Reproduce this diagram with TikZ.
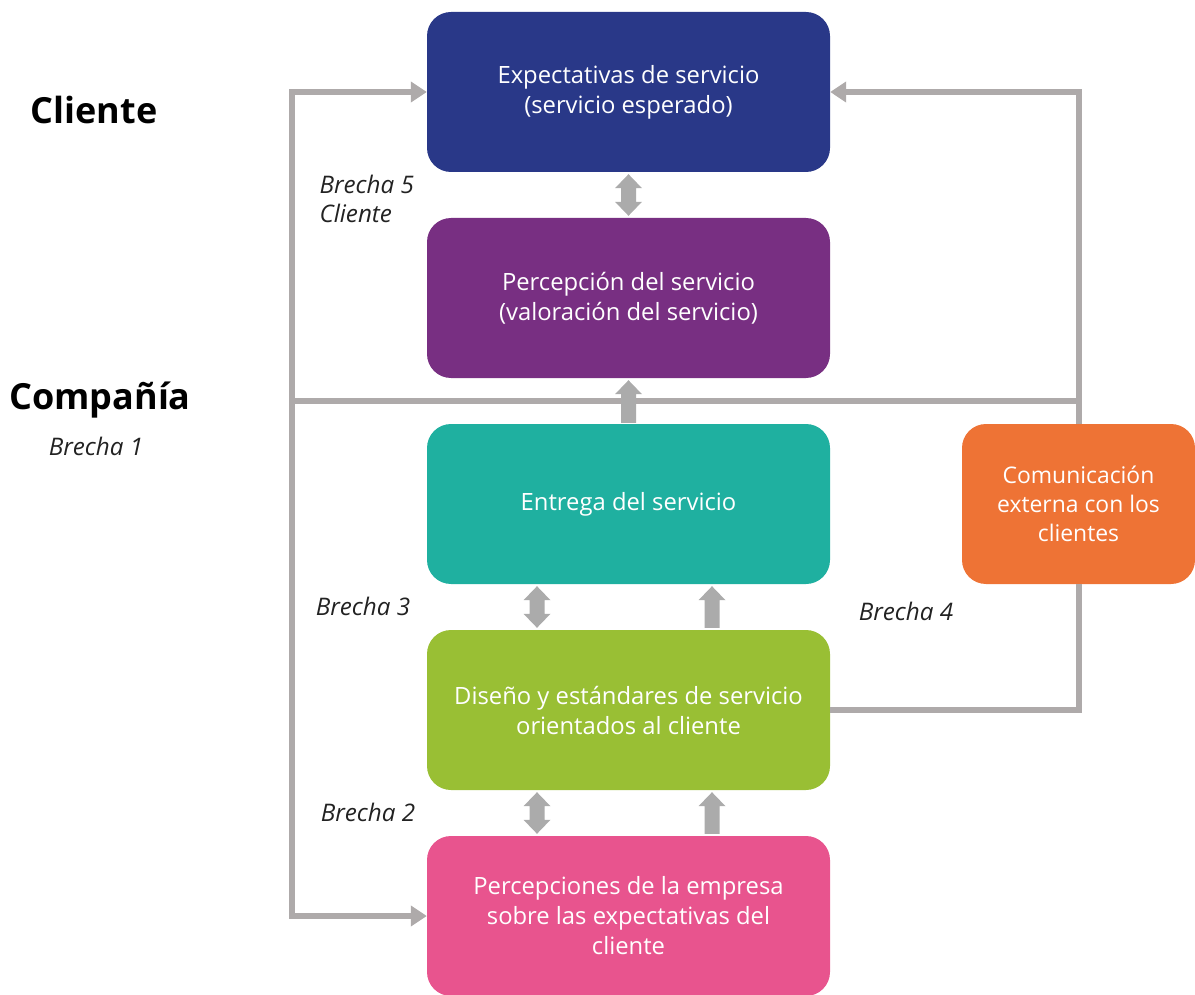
\documentclass[tikz,border=0pt]{standalone}
\usepackage{fontspec}
\setmainfont{Open Sans}
\usetikzlibrary{arrows.meta,calc}

\definecolor{cblue}{RGB}{41,56,136}
\definecolor{cpurple}{RGB}{120,47,130}
\definecolor{cteal}{RGB}{31,176,160}
\definecolor{cgreen}{RGB}{153,191,52}
\definecolor{cpink}{RGB}{232,84,142}
\definecolor{corange}{RGB}{238,115,53}
\definecolor{linegray}{RGB}{174,170,170}
\definecolor{arrowgray}{RGB}{171,171,171}
\definecolor{labeltext}{RGB}{34,34,34}

\tikzset{
  stage/.style={rectangle, rounded corners=24pt, minimum width=403pt,
    minimum height=160pt, inner sep=0pt, text=white, align=center,
    font=\fontsize{23.8}{30}\selectfont},
  sidebox/.style={stage, minimum width=233pt, font=\fontsize{22.9}{29}\selectfont},
  flow/.style={draw=linegray, line width=6pt, line join=miter},
  flowtip/.style={flow, -{Triangle[length=16pt,width=20pt]}},
  blockarrow/.style={fill=arrowgray},
  side/.style={font=\fontsize{36}{40}\selectfont\bfseries, text=black},
  gaplabel/.style={font=\fontsize{24.2}{29}\selectfont\itshape, text=labeltext, align=left}
}

% two-headed block arrow from an upper point #1 down to a lower point #2
\newcommand\dblblock[2]{%
  \fill[blockarrow] let \p1=#1, \p2=#2 in
    (\x1,\y1) -- (\x1+13.5pt,\y1-14pt) -- (\x1+7.5pt,\y1-14pt)
    -- (\x1+7.5pt,\y2+14pt) -- (\x1+13.5pt,\y2+14pt) -- (\x1,\y2)
    -- (\x1-13.5pt,\y2+14pt) -- (\x1-7.5pt,\y2+14pt)
    -- (\x1-7.5pt,\y1-14pt) -- (\x1-13.5pt,\y1-14pt) -- cycle;}
% one-headed block arrow with its tip at #1 and its tail at #2
\newcommand\upblock[2]{%
  \fill[blockarrow] let \p1=#1, \p2=#2 in
    (\x1,\y1) -- (\x1+13.5pt,\y1-14pt) -- (\x1+7.5pt,\y1-14pt)
    -- (\x1+7.5pt,\y2) -- (\x1-7.5pt,\y2)
    -- (\x1-7.5pt,\y1-14pt) -- (\x1-13.5pt,\y1-14pt) -- cycle;}

\begin{document}
\begin{tikzpicture}[x=1pt,y=-1pt]
\useasboundingbox (0,0) rectangle (1195,995);

% stages of the service chain
\node[stage, fill=cblue]   (exp) at (628.5,92)  {Expectativas de servicio\\(servicio esperado)};
\node[stage, fill=cpurple] (per) at (628.5,298) {Percepción del servicio\\(valoración del servicio)};
\node[stage, fill=cteal]   (ent) at (628.5,504) {Entrega del servicio};
\node[stage, fill=cgreen]  (dis) at (628.5,710) {Diseño y estándares de servicio\\orientados al cliente};
\node[stage, fill=cpink]   (emp) at (628.5,916) {Percepciones de la empresa\\sobre las expectativas del\\cliente};
\node[sidebox, fill=corange] (com) at (1078.5,504) {Comunicación\\externa con los\\clientes};

% side headings and gap labels
\node[side] (cli) at (94,110) {Cliente};
\node[side] (cia) at (100,400) {Compañía};
\node[gaplabel] (b1) at (96,446) {Brecha 1};
\node[gaplabel, anchor=west] (b5) at (316,199) {Brecha 5\\Cliente};
\node[gaplabel] (b3) at (363,606) {Brecha 3};
\node[gaplabel] (b4) at (906,611) {Brecha 4};
\node[gaplabel] (b2) at (368,812) {Brecha 2};

% grey connectors
\coordinate (lx) at (292,401);
\coordinate (rx) at (com.north |- lx);
\draw[flowtip] (lx) |- (exp.west);
\draw[flowtip] (lx) |- (emp.west);
\draw[flow] (lx) -- (rx);
\draw[flowtip] (com.north) |- (exp.east);
\draw[flow] (dis.east) -| (com.south);

% block arrows between the stages
\dblblock{($(exp.south)+(0,2)$)}{($(per.north)+(0,-2)$)}
\upblock{($(per.south)+(0,2)$)}{($(ent.north)+(0,-1)$)}
\dblblock{($(ent.south)+(-91.5,2)$)}{($(dis.north)+(-91.5,-2)$)}
\upblock{($(ent.south)+(83.5,2)$)}{($(dis.north)+(83.5,-2)$)}
\dblblock{($(dis.south)+(-91.5,2)$)}{($(emp.north)+(-91.5,-2)$)}
\upblock{($(dis.south)+(83.5,2)$)}{($(emp.north)+(83.5,-2)$)}
\end{tikzpicture}
\end{document}
